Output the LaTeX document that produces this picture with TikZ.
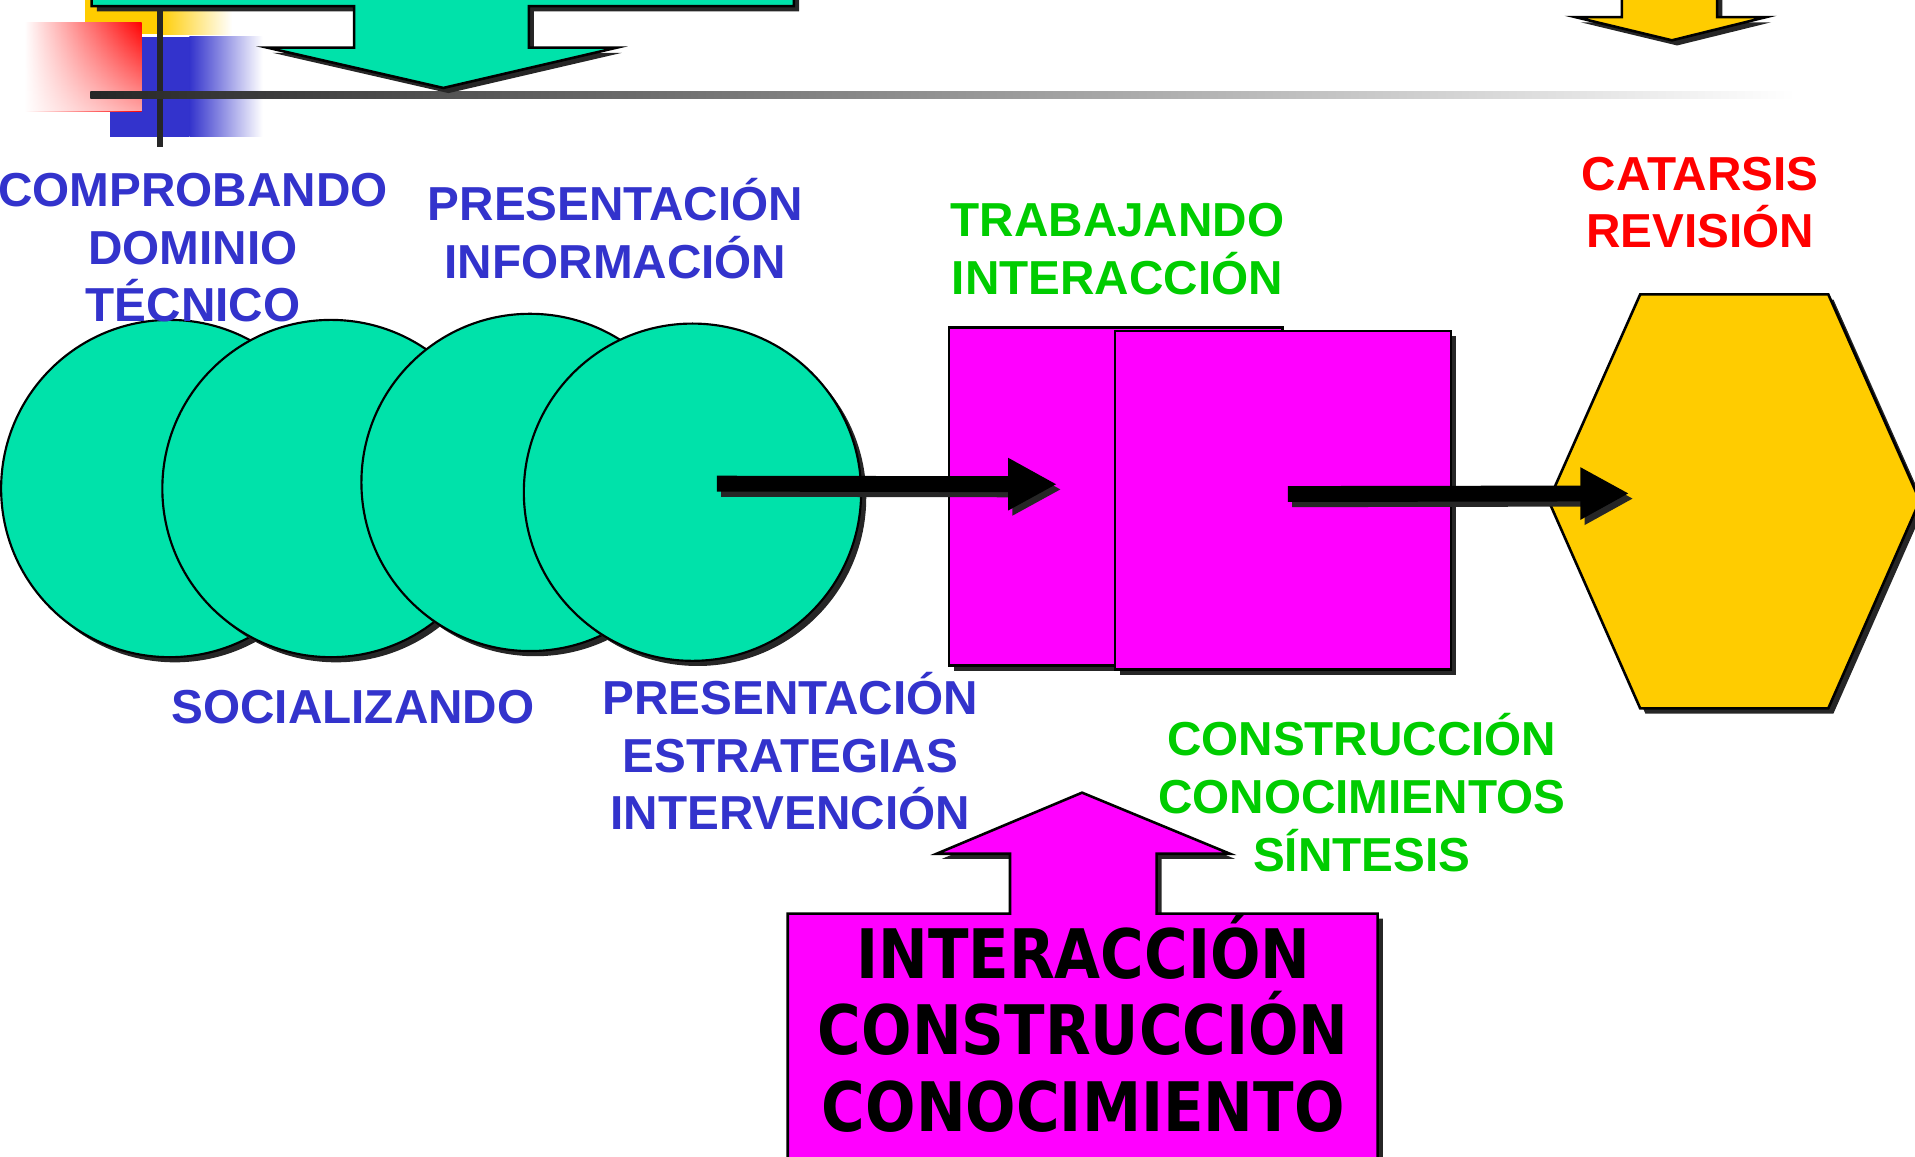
\documentclass[tikz,border=0pt]{standalone}
\usepackage{fontspec}
\setmainfont{Liberation Sans}
\newfontfamily\boxfont[FakeStretch=0.87]{DejaVu Sans}
\usepackage{tikz}
\usetikzlibrary{shapes.geometric, shadows, arrows.meta, calc, fadings, positioning}

\definecolor{aqua}{RGB}{0,226,170}
\definecolor{mag}{RGB}{255,0,255}
\definecolor{gold}{RGB}{255,204,0}
\definecolor{ink}{RGB}{51,51,204}
\definecolor{leaf}{RGB}{0,204,0}

\begin{document}
\begin{tikzpicture}[x=0.01cm, y=-0.01cm,
  shd/.style={drop shadow={shadow xshift=1.2pt, shadow yshift=-1.2pt, fill=black!85, opacity=1}},
  circ/.style={ellipse, draw, line width=0.5pt, fill=aqua, minimum width=2.76cm, minimum height=2.76cm, inner sep=0pt, shd},
  sq/.style={rectangle, draw, line width=0.6pt, fill=mag, minimum height=2.77cm, inner sep=0pt, shd},
  lbl/.style={font=\bfseries\fontsize{11.1}{13.4}\selectfont, align=center, inner sep=0pt},
  boxtxt/.style={font=\boxfont\bfseries\fontsize{15.9}{17.8}\selectfont, align=center, inner sep=0pt},
  bigarrow/.style={line width=0.13cm, -{Triangle[length=0.4cm, width=0.4cm]}},
  bigshadow/.style={bigarrow, draw=black!85, transform canvas={xshift=1pt, yshift=-1.2pt}}]
\useasboundingbox (0,0) rectangle (1568,947);
\clip (0,0) rectangle (1568,947);

\fill[gold] (70,-5) rectangle (130,28);
\shade[left color=gold, right color=white] (130,-5) rectangle (190,28);
\fill[ink] (90,30) rectangle (155,112);
\shade[left color=ink, right color=white] (155,30) rectangle (215,112);
\shade[left color=white, right color=red] (20,18) rectangle (116,91);
\fill[white, path fading=north, fill opacity=0.65] (20,18) rectangle (116,91);
\draw[line width=0.05cm, black!85] (131,0) -- (131,120);
\shade[left color=black!85, right color=white] (74,75) rectangle (1470,81);

\filldraw[fill=aqua, line width=0.6pt, shd] (75,-20) -- (75,5) -- (290,5) -- (290,39) -- (219,39) -- (363,72)
  -- (505,39) -- (433,39) -- (433,5) -- (650,5) -- (650,-20) -- cycle;
\filldraw[fill=gold, line width=0.6pt, shd] (1328,-20) -- (1328,14) -- (1290,14) -- (1369,33) -- (1446,14)
  -- (1406,14) -- (1406,-20) -- cycle;

\node[circ] (c1) at (139,400) {};
\node[circ] (c2) at (271,400) {};
\node[circ] (c3) at (434,395) {};
\node[circ] (c4) at (567,403) {};

\node[sq, minimum width=2.73cm] (r1) at (913.5,406.5) {};
\node[sq, minimum width=2.75cm] (r2) at (1050.5,409.5) {};

\filldraw[fill=gold, line width=0.6pt, shd] (1268,410) -- (1343,241) -- (1497,241) -- (1572,410) -- (1497,580)
  -- (1343,580) -- cycle;
\coordinate (hx) at (1420,410);

\filldraw[fill=mag, line width=0.6pt, shd] (645,1000) -- (645,748) -- (827,748) -- (827,699) -- (767,699)
  -- (886,649) -- (1007,699) -- (947,699) -- (947,748) -- (1128,748) -- (1128,1000) -- cycle;
\node[boxtxt] (kb) at (887,838) {INTERACCIÓN\\CONSTRUCCIÓN\\CONOCIMIENTO};

\draw[bigshadow] ($(c4.center)+(20,-7)$) -- ($(r1.center)+(-48,-10)$);
\draw[bigarrow] ($(c4.center)+(20,-7)$) -- ($(r1.center)+(-48,-10)$);
\draw[bigshadow] ($(r2.center)+(4,-5)$) -- ($(hx)+(-86,-6)$);
\draw[bigarrow] ($(r2.center)+(4,-5)$) -- ($(hx)+(-86,-6)$);

\node[lbl, text=ink] (t1) at (158,203) {COMPROBANDO\\DOMINIO\\TÉCNICO};
\node[lbl, text=ink] (t2) at (504,187) {PRESENTACIÓN\\INFORMACIÓN};
\node[lbl, text=ink] (t3) at (289,579) {SOCIALIZANDO};
\node[lbl, text=ink] (t4) at (647,615) {PRESENTACIÓN\\ESTRATEGIAS\\INTERVENCIÓN};
\node[lbl, text=leaf] (t5) at (915,204) {TRABAJANDO\\INTERACCIÓN};
\node[lbl, text=leaf] (t6) at (1115,649) {CONSTRUCCIÓN\\CONOCIMIENTOS\\SÍNTESIS};
\node[lbl, text=red] (t7) at (1392,166) {CATARSIS\\REVISIÓN};
\end{tikzpicture}
\end{document}
